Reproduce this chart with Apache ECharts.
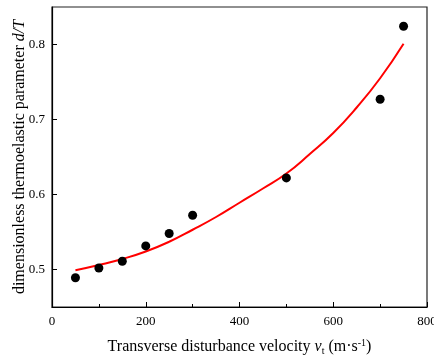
<!DOCTYPE html>
<html>
<head>
<meta charset="utf-8">
<script src="https://cdn.jsdelivr.net/npm/echarts@6/dist/echarts.min.js"></script>
<style>html,body{margin:0;padding:0;background:#fff}#c{width:434px;height:359px}</style>
</head>
<body>
<div id="c"></div>
<script>
const pointX = [50, 100, 150, 200, 250, 300, 500, 700, 750];
const pointY = [0.489, 0.502, 0.511, 0.5315, 0.548, 0.5724, 0.6221, 0.727, 0.8244];
const fitX = [50, 100, 150, 200, 250, 300, 350, 400, 450, 500, 550, 600, 650, 700, 750];
const fitY = [0.499, 0.506, 0.514, 0.524, 0.537, 0.553, 0.570, 0.589, 0.608, 0.628, 0.654, 0.682, 0.716, 0.755, 0.801];
const yTicks = [0.5, 0.6, 0.7, 0.8];

const chart = echarts.init(document.getElementById('c'), null, {renderer: 'canvas'});
const F = 'Liberation Serif';
chart.setOption({
  animation: false,
  backgroundColor: '#fff',
  grid: {left: 52, right: 7, top: 7, bottom: 52, containLabel: false, outerBoundsMode: 'none', show: true, borderColor: '#222', borderWidth: 1.2, backgroundColor: 'transparent'},
  xAxis: {
    type: 'value', min: 0, max: 800, interval: 200,
    axisLine: {show: true, lineStyle: {color: '#000', width: 1.2}},
    axisTick: {show: true, inside: true, length: 5, lineStyle: {color: '#000'}},
    minorTick: {show: true, splitNumber: 2, length: 3, lineStyle: {color: '#000'}},
    splitLine: {show: false},
    axisLabel: {fontFamily: F, fontSize: 13, color: '#000', margin: 8, hideOverlap: false},
    name: '{n|Transverse disturbance velocity }{i|v}{sub|t}{n| (m·s}{sup|-1}{n|)}',
    nameLocation: 'middle', nameGap: 31, nameMoveOverlap: false,
    nameTextStyle: {
      fontFamily: F, fontSize: 16, color: '#000',
      rich: {
        n: {fontFamily: F, fontSize: 16, color: '#000'},
        i: {fontFamily: F, fontSize: 16, color: '#000', fontStyle: 'italic'},
        sub: {fontFamily: F, fontSize: 10, color: '#000', padding: [8, 0, 0, 0]},
        sup: {fontFamily: F, fontSize: 10, color: '#000', padding: [0, 0, 8, 0]}
      }
    }
  },
  yAxis: {
    type: 'value', min: 0.45, max: 0.85,
    axisLine: {show: true, lineStyle: {color: '#000', width: 1.2}},
    axisTick: {show: true, inside: true, length: 5, customValues: yTicks, lineStyle: {color: '#000'}},
    splitLine: {show: false},
    axisLabel: {fontFamily: F, fontSize: 13, color: '#000', margin: 7, customValues: yTicks, formatter: v => v.toFixed(1)},
    name: '{n|dimensionless thermoelastic parameter }{i|d/T}',
    nameLocation: 'middle', nameGap: 24, nameMoveOverlap: false,
    nameTextStyle: {
      fontFamily: F, fontSize: 16, color: '#000',
      rich: {
        n: {fontFamily: F, fontSize: 16, color: '#000'},
        i: {fontFamily: F, fontSize: 16, color: '#000', fontStyle: 'italic'}
      }
    }
  },
  series: [
    {
      type: 'line', data: fitX.map((x, i) => [x, fitY[i]]), smooth: true, showSymbol: false,
      lineStyle: {color: '#ff0000', width: 2}, z: 2
    },
    {
      type: 'scatter', data: pointX.map((x, i) => [x, pointY[i]]), symbolSize: 9,
      itemStyle: {color: '#000', opacity: 1}, z: 3
    }
  ]
});
</script>
</body>
</html>
